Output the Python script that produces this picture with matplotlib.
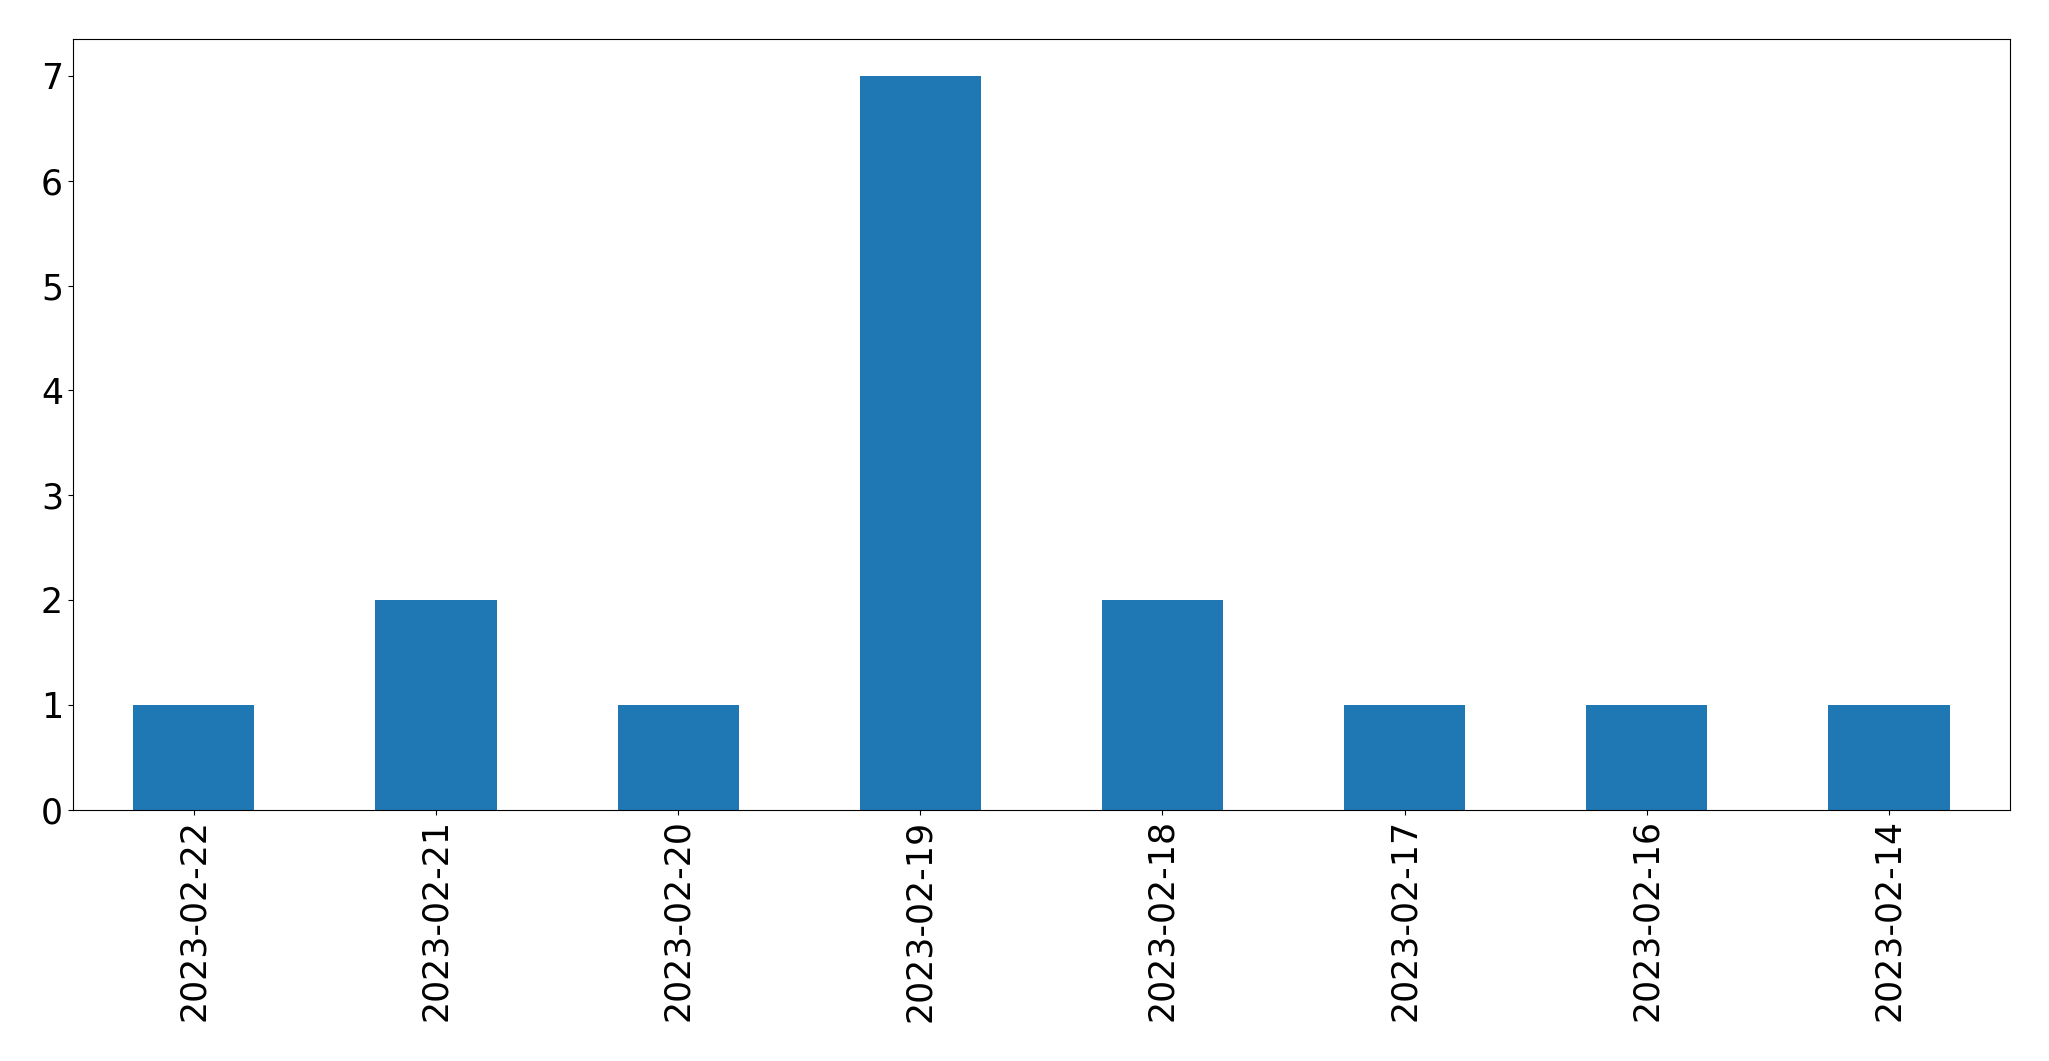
import matplotlib
matplotlib.use("Agg")
import matplotlib.pyplot as plt
import numpy as np

dates = ["2023-02-22", "2023-02-21", "2023-02-20", "2023-02-19",
         "2023-02-18", "2023-02-17", "2023-02-16", "2023-02-14"]
counts = [1, 2, 1, 7, 2, 1, 1, 1]

fig = plt.figure(figsize=(20.49, 10.61), dpi=100)
ax = fig.add_axes([0.0355, 0.237, 0.9455, 0.726])

x = np.arange(len(dates))
ax.bar(x, counts, width=0.5, color="#1f77b4")
ax.set_xlim(-0.5, len(dates) - 0.5)
ax.set_xticks(x)
ax.set_xticklabels(dates, rotation=90)
ax.tick_params(axis="both", labelsize=25)

fig.savefig("out.png", dpi=100)
